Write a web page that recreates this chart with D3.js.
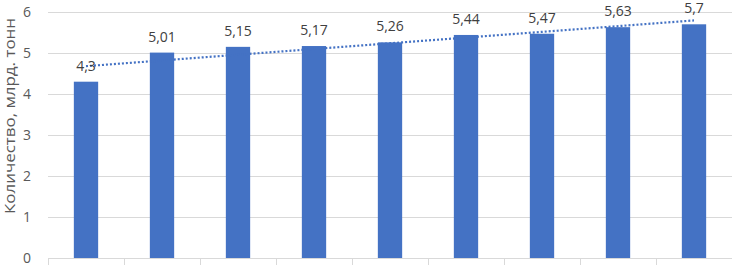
<!DOCTYPE html>
<meta charset="utf-8">
<head>
<style>
 body { margin: 0; background: #fff; }
 svg text { font-family: "Open Sans", sans-serif; }
 .grid line { stroke: #d9d9d9; stroke-width: 1px; }
 .y-axis text { fill: #595959; font-size: 14px; }
 .bar-label { fill: #404040; font-size: 14px; }
 .axis-title { fill: #595959; font-size: 15px; }
</style>
</head>
<body>
<svg width="732" height="265"></svg>
<script src="https://d3js.org/d3.v7.min.js"></script>
<script>
  // data
  var categories = ['1', '2', '3', '4', '5', '6', '7', '8', '9'];
  var values = [4.3, 5.01, 5.15, 5.17, 5.26, 5.44, 5.47, 5.63, 5.7];
  var yTicks = [0, 1, 2, 3, 4, 5, 6];
  var yTitle = 'Количество, млрд. тонн';

  var svg = d3.select('svg');
  var width = +svg.attr('width');
  var height = +svg.attr('height');
  var margin = { top: 12, left: 48, bottom: 7, right: 0 };

  var x = d3.scaleBand()
      .domain(categories)
      .range([margin.left, width - margin.right])
      .paddingInner(0.68)
      .paddingOuter(0.34);
  var y = d3.scaleLinear()
      .domain([0, 6])
      .range([height - margin.bottom, margin.top]);

  var fmt = function(v) { return String(v).replace('.', ','); };

  // gridlines
  svg.append('g').attr('class', 'grid')
    .selectAll('line').data(yTicks).enter().append('line')
      .attr('x1', margin.left).attr('x2', width - margin.right)
      .attr('y1', function(d) { return y(d) + 0.5; })
      .attr('y2', function(d) { return y(d) + 0.5; });

  // category tick marks below axis
  var step = x.step();
  svg.append('g').attr('class', 'grid')
    .selectAll('line').data(categories).enter().append('line')
      .attr('x1', function(d) { return Math.round(x(d) - x.paddingOuter() * step) + 0.5; })
      .attr('x2', function(d) { return Math.round(x(d) - x.paddingOuter() * step) + 0.5; })
      .attr('y1', y(0)).attr('y2', height);

  // y axis labels
  var yAxis = d3.axisLeft(y).tickValues(yTicks).tickFormat(d3.format('d'))
      .tickSize(0).tickPadding(17);
  svg.append('g').attr('class', 'y-axis')
    .attr('transform', 'translate(' + margin.left + ',0)')
    .call(yAxis)
    .call(function(g) { g.select('.domain').remove(); });

  svg.append('text').attr('class', 'axis-title')
    .attr('transform', 'translate(15,116) rotate(-90)')
    .attr('text-anchor', 'middle')
    .attr('textLength', 196)
    .attr('lengthAdjust', 'spacingAndGlyphs')
    .text(yTitle);

  // bars
  svg.append('g').selectAll('rect').data(values).enter().append('rect')
    .attr('x', function(d, i) { return x(categories[i]); })
    .attr('width', x.bandwidth())
    .attr('y', function(d) { return y(d); })
    .attr('height', function(d) { return y(0) - y(d); })
    .attr('fill', '#4472c4');

  // linear trendline (least squares)
  var n = values.length;
  var mx = d3.mean(d3.range(n)), my = d3.mean(values);
  var slope = d3.sum(values, function(v, i) { return (i - mx) * (v - my); }) /
              d3.sum(d3.range(n), function(i) { return (i - mx) * (i - mx); });
  var trend = [0, n - 1].map(function(i) { return [i, my + slope * (i - mx)]; });
  var cx = function(i) { return x(categories[i]) + x.bandwidth() / 2; };
  svg.append('path')
    .datum(trend)
    .attr('d', d3.line().x(function(d) { return cx(d[0]); }).y(function(d) { return y(d[1]); }))
    .attr('fill', 'none')
    .attr('stroke', '#4472c4')
    .attr('stroke-width', 2.2)
    .attr('stroke-dasharray', '2,2');

  // value labels
  svg.append('g').selectAll('text').data(values).enter().append('text')
    .attr('class', 'bar-label')
    .attr('x', function(d, i) { return cx(i); })
    .attr('y', function(d) { return y(d) - 11; })
    .attr('text-anchor', 'middle')
    .text(fmt);
</script>
</body>
</html>
